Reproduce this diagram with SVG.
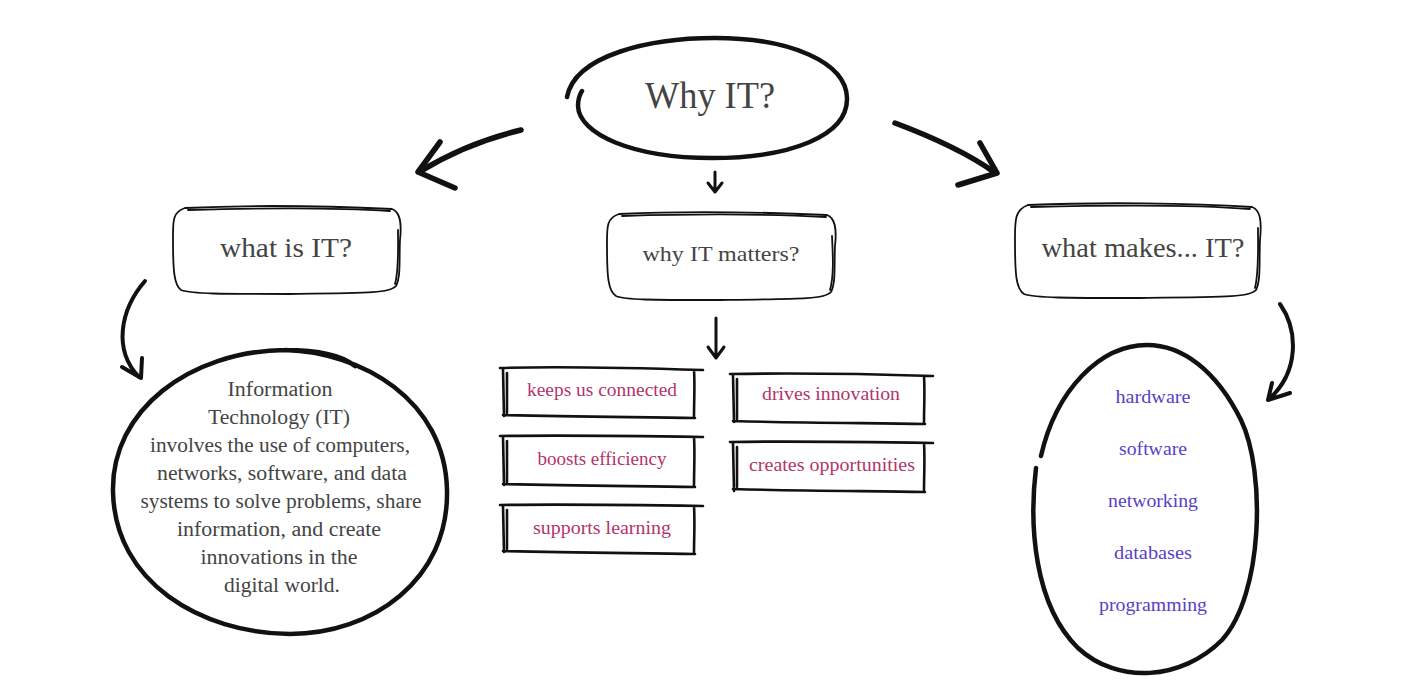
<svg xmlns="http://www.w3.org/2000/svg" width="1403" height="695" viewBox="0 0 1403 695">
<style>
.bg{fill:#ffffff}
.ln{fill:none;stroke:#111;stroke-linecap:round;stroke-linejoin:round}
.big{stroke-width:4.5}
.box{stroke-width:1.8}
.sb{stroke-width:2.6}
.arw{stroke-width:5.5}
.t{font-family:"Liberation Serif","DejaVu Serif",serif;text-anchor:middle}
.dark{fill:#444}
.pink{fill:#b3346b}
.purple{fill:#5a3ec8}
</style>
<rect class="bg" x="0" y="0" width="1403" height="695"/>

<g id="connectors">
  <path class="ln arw" d="M521,130 C480,140 447,155 421,171"/>
  <path class="ln arw" d="M440,142 L418,172 L455,188"/>
  <path class="ln arw" d="M895,123 C935,138 970,155 994,172"/>
  <path class="ln arw" d="M980,143 L997,173 L958,185"/>
  <path class="ln" stroke-width="3" d="M715,172 L715,192 M708,183 L715,192 L722,183"/>
  <path class="ln" stroke-width="3" d="M716,318 L716,357 M708,347 L716,358 L724,347"/>
  <path class="ln" stroke-width="4" d="M145,281 C120,310 113,350 139,377 M122,367 L141,378 L142,358"/>
  <path class="ln" stroke-width="4" d="M1280,304 C1298,330 1300,372 1268,400 M1272,383 L1268,400 L1290,393"/>
</g>

<g id="node-why">
  <path class="ln big" d="M567,97 C575,55 650,38 715,38 C790,38 846,62 847,98 C848,136 790,158 712,158 C632,158 579,134 578,106 C578,99 580,94 582,91"/>
  <text class="t dark" x="710" y="108" font-size="37" textLength="130" lengthAdjust="spacingAndGlyphs">Why IT?</text>
</g>

<g id="node-what">
  <path class="ln box" d="M185,208 C250,205 330,206 392,209 C400,212 402,222 400,240 C399,260 401,276 396,286 C390,293 370,293 290,294 C220,294 192,294 181,290 C174,285 173,270 173,240 C173,222 172,212 185,208"/>
  <path class="ln box" d="M188,210 C260,208 340,208 390,211 M398,230 C398,250 399,270 395,284"/>
  <text class="t dark" x="286" y="257" font-size="27" textLength="132" lengthAdjust="spacingAndGlyphs">what is IT?</text>
</g>

<g id="node-matters">
  <path class="ln box" d="M619,214 C680,211 760,212 827,215 C835,218 837,228 835,246 C834,266 836,282 831,292 C825,299 805,299 720,300 C650,300 625,300 616,296 C608,291 607,276 607,246 C607,228 606,218 619,214"/>
  <path class="ln box" d="M622,216 C690,214 770,214 826,217 M832,236 C833,256 834,276 830,290"/>
  <text class="t dark" x="721" y="261" font-size="22" textLength="157" lengthAdjust="spacingAndGlyphs">why IT matters?</text>
</g>

<g id="node-makes">
  <path class="ln box" d="M1028,205 C1100,202 1190,203 1252,207 C1260,210 1262,220 1260,240 C1259,262 1261,280 1256,290 C1250,297 1230,297 1140,298 C1065,298 1035,298 1024,294 C1016,289 1015,274 1015,242 C1015,222 1014,210 1028,205"/>
  <path class="ln box" d="M1031,207 C1110,205 1200,205 1250,209 M1258,228 C1258,250 1259,272 1255,288"/>
  <text class="t dark" x="1143" y="257" font-size="27" textLength="203" lengthAdjust="spacingAndGlyphs">what makes... IT?</text>
</g>

<g id="node-definition">
  <path class="ln big" d="M285,350 C362,352 445,400 447,490 C449,580 372,634 290,634 C200,633 115,582 113,492 C111,410 190,351 285,350 C318,350 343,356 355,366"/>
  <g class="t dark" font-size="20" lengthAdjust="spacingAndGlyphs">
    <text x="280" y="396" textLength="105" lengthAdjust="spacingAndGlyphs">Information</text>
    <text x="279" y="424" textLength="142" lengthAdjust="spacingAndGlyphs">Technology (IT)</text>
    <text x="280" y="452" textLength="260" lengthAdjust="spacingAndGlyphs">involves the use of computers,</text>
    <text x="282" y="480" textLength="250" lengthAdjust="spacingAndGlyphs">networks, software, and data</text>
    <text x="281" y="508" textLength="281" lengthAdjust="spacingAndGlyphs">systems to solve problems, share</text>
    <text x="279" y="536" textLength="204" lengthAdjust="spacingAndGlyphs">information, and create</text>
    <text x="279" y="564" textLength="157" lengthAdjust="spacingAndGlyphs">innovations in the</text>
    <text x="282" y="592" textLength="116" lengthAdjust="spacingAndGlyphs">digital world.</text>
  </g>
</g>

<g id="node-reason-1">
  <path class="ln sb" d="M500,368 C560,366 640,368 703,370 M694,370 C695,385 694,400 694,417 M503,415 C570,417 640,417 695,418 M503,369 L504,416 M507,373 L507,413"/>
  <text class="t pink" x="602" y="396" font-size="18" textLength="150" lengthAdjust="spacingAndGlyphs">keeps us connected</text>
</g>
<g id="node-reason-2">
  <path class="ln sb" d="M730,374 C790,373 870,374 933,376 M924,376 C925,392 924,406 924,423 M733,421 C800,423 870,423 925,424 M733,375 L734,422 M737,379 L737,419"/>
  <text class="t pink" x="831" y="400" font-size="18" textLength="138" lengthAdjust="spacingAndGlyphs">drives innovation</text>
</g>
<g id="node-reason-3">
  <path class="ln sb" d="M500,436 C560,435 640,436 703,437 M694,437 C695,452 694,470 694,486 M503,484 C570,486 640,486 695,487 M503,437 L504,485 M507,441 L507,482"/>
  <text class="t pink" x="602" y="465" font-size="18" textLength="129" lengthAdjust="spacingAndGlyphs">boosts efficiency</text>
</g>
<g id="node-reason-4">
  <path class="ln sb" d="M730,442 C790,441 870,442 933,443 M924,443 C925,458 924,476 924,491 M733,489 C800,491 870,491 925,492 M733,443 L734,491 M737,447 L737,487"/>
  <text class="t pink" x="832" y="471" font-size="18" textLength="166" lengthAdjust="spacingAndGlyphs">creates opportunities</text>
</g>
<g id="node-reason-5">
  <path class="ln sb" d="M500,505 C560,504 640,505 703,506 M694,506 C695,521 694,538 694,553 M503,551 C570,553 640,553 695,554 M503,506 L504,552 M507,510 L507,549"/>
  <text class="t pink" x="602" y="534" font-size="18" textLength="138" lengthAdjust="spacingAndGlyphs">supports learning</text>
</g>

<g id="node-components">
  <path class="ln big" d="M1036,468 C1029,525 1034,605 1078,648 C1118,685 1182,680 1222,640 C1263,595 1266,472 1241,420 C1216,370 1182,345 1147,345 C1100,345 1056,390 1041,456"/>
  <g class="t purple" font-size="19">
    <text x="1153" y="403" textLength="75" lengthAdjust="spacingAndGlyphs">hardware</text>
    <text x="1153" y="455" textLength="68" lengthAdjust="spacingAndGlyphs">software</text>
    <text x="1153" y="507" textLength="90" lengthAdjust="spacingAndGlyphs">networking</text>
    <text x="1153" y="559" textLength="78" lengthAdjust="spacingAndGlyphs">databases</text>
    <text x="1153" y="611" textLength="108" lengthAdjust="spacingAndGlyphs">programming</text>
  </g>
</g>
</svg>
